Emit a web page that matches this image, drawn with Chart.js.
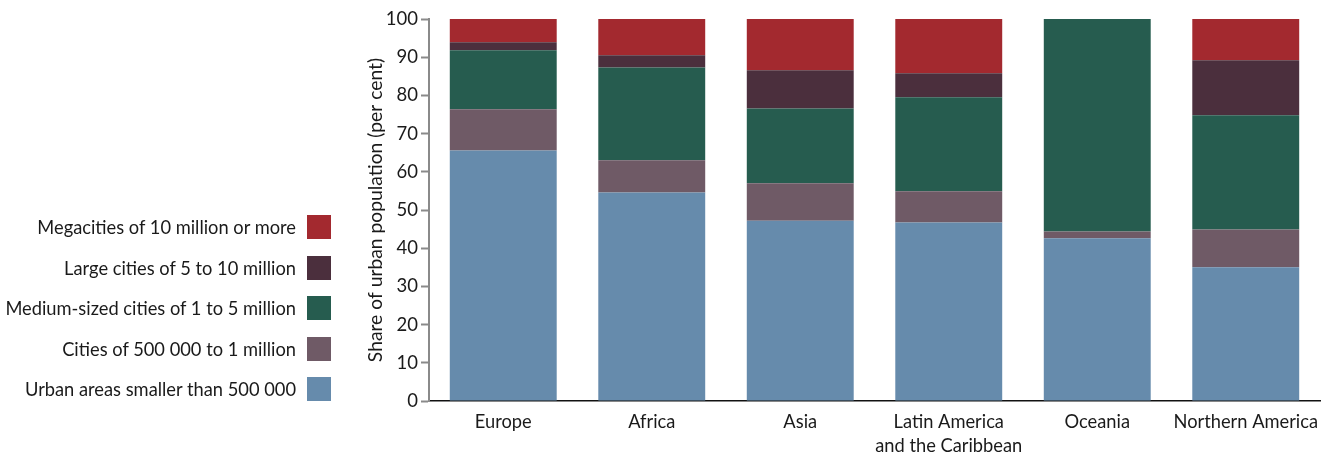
<!DOCTYPE html>
<html>
<head>
<meta charset="utf-8">
<script src="https://cdn.jsdelivr.net/npm/chart.js@4"></script>
<style>
  body { margin: 0; background: #fff; font-family: Lato, sans-serif; }
  #wrap { position: relative; width: 1330px; height: 457px; }
  #legend { position: absolute; left: 0; top: 207px; width: 331px; }
  .row { display: flex; justify-content: flex-end; align-items: center; height: 40.5px; font-size: 18.3px; color: #1a1a1a; }
  .row span.box { width: 24px; height: 24px; margin-left: 11px; }
</style>
</head>
<body>
<div id="wrap">
  <canvas id="chart" width="1330" height="457"></canvas>
  <div id="legend"></div>
</div>
<script>
// regions along the x axis
const categories = ['Europe', 'Africa', 'Asia', ['Latin America', 'and the Caribbean'], 'Oceania', 'Northern America'];

// share of urban population, per cent (bottom to top)
const smallerThan500k = [65.6, 54.6, 47.2, 46.7, 42.6, 35.0];
const cities500kTo1m = [10.8, 8.4, 9.8, 8.2, 1.8, 9.9];
const medium1To5m = [15.4, 24.3, 19.6, 24.6, 55.6, 29.9];
const large5To10m = [2.1, 3.2, 10.0, 6.3, 0, 14.4];
const megacities = [6.1, 9.5, 13.4, 14.2, 0, 10.8];

const seriesNames = [
  'Urban areas smaller than 500 000',
  'Cities of 500 000 to 1 million',
  'Medium-sized cities of 1 to 5 million',
  'Large cities of 5 to 10 million',
  'Megacities of 10 million or more'
];
const seriesColors = ['#668BAC', '#6F5A66', '#265C4F', '#4B2F3D', '#A3292F'];
const seriesData = [smallerThan500k, cities500kTo1m, medium1To5m, large5To10m, megacities];

const yTicks = [0, 10, 20, 30, 40, 50, 60, 70, 80, 90, 100];

const datasets = seriesData.map((d, i) => ({
  label: seriesNames[i],
  data: d,
  backgroundColor: seriesColors[i],
  borderWidth: 0,
  categoryPercentage: 1.0,
  barPercentage: 0.72
}));

// legend on the left, top item is the last series
const legend = document.getElementById('legend');
for (let i = seriesNames.length - 1; i >= 0; i--) {
  const row = document.createElement('div');
  row.className = 'row';
  row.innerHTML = '<span>' + seriesNames[i] + '</span><span class="box" style="background:' + seriesColors[i] + '"></span>';
  legend.appendChild(row);
}

const ctx = document.getElementById('chart').getContext('2d');
new Chart(ctx, {
  type: 'bar',
  data: { labels: categories, datasets: datasets },
  options: {
    responsive: false,
    animation: false,
    layout: { padding: { left: 359, top: 19, right: 10, bottom: 0 } },
    plugins: {
      legend: { display: false },
      tooltip: { enabled: false }
    },
    scales: {
      x: {
        stacked: true,
        grid: { display: true, drawOnChartArea: false, drawTicks: false },
        border: { color: '#111', width: 1.5 },
        ticks: { color: '#1a1a1a', font: { family: 'Lato', size: 18.3, lineHeight: 1.3 }, padding: 9, maxRotation: 0, autoSkip: false },
        afterFit: s => { s.height = 56; }
      },
      y: {
        stacked: true,
        min: 0,
        max: 100,
        afterBuildTicks: s => { s.ticks = yTicks.map(v => ({ value: v })); },
        grid: { drawOnChartArea: false, drawTicks: true, tickLength: 8, color: '#8a8a8a', tickWidth: 2 },
        border: { color: '#8a8a8a', width: 2 },
        ticks: { color: '#1a1a1a', font: { family: 'Lato', size: 18.5 }, padding: 3 },
        title: { display: true, text: 'Share of urban population (per cent)', color: '#1a1a1a', font: { family: 'Lato', size: 19.3 }, padding: { top: 5 } },
        afterFit: s => { s.width = 70; }
      }
    }
  }
});
</script>
</body>
</html>
